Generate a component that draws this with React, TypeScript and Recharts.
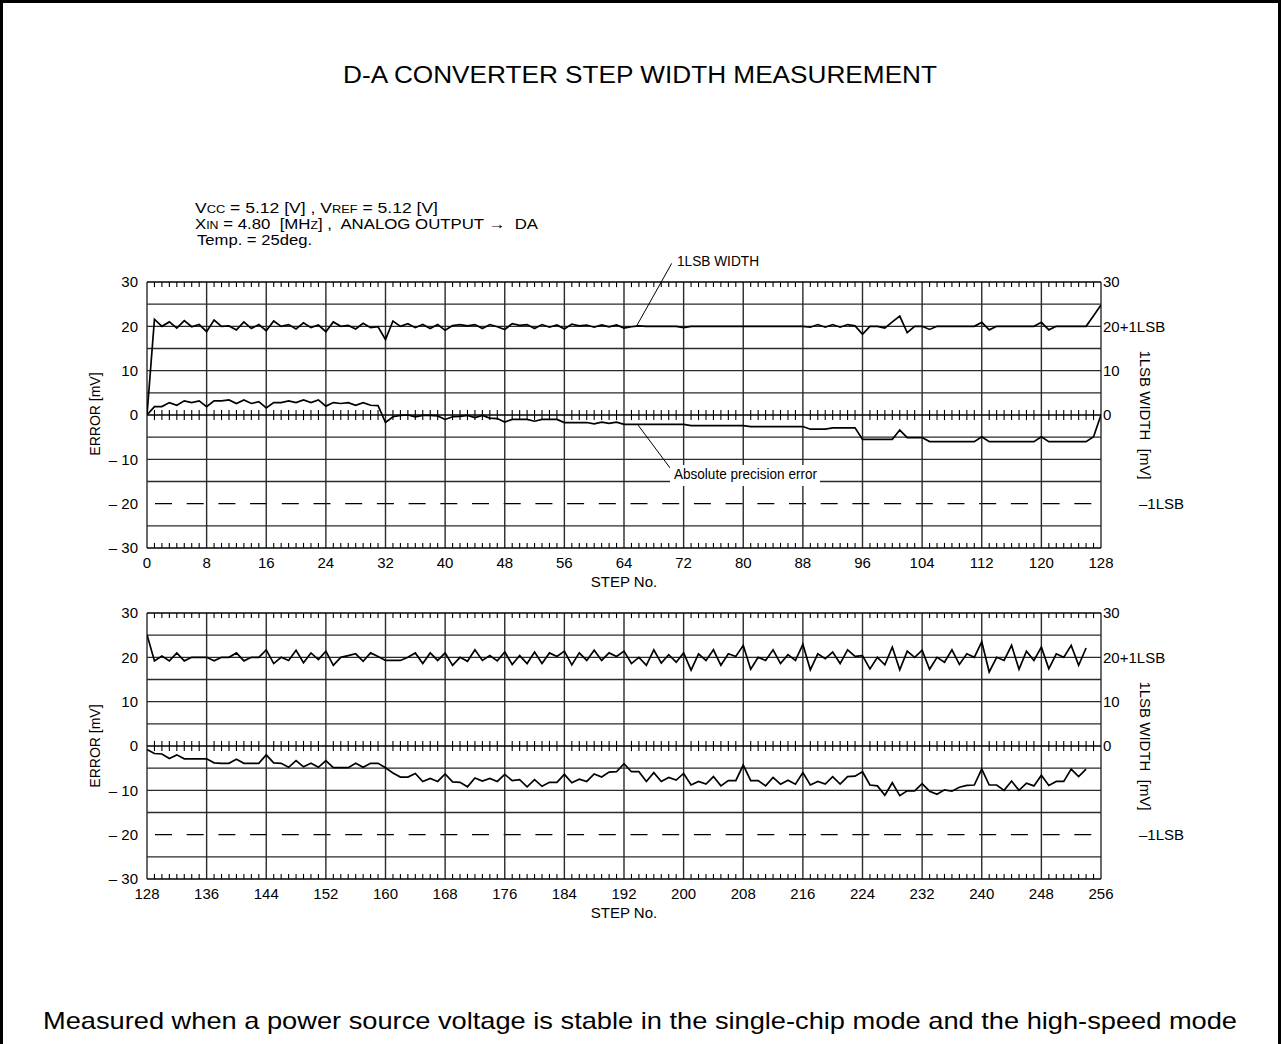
import React from 'react';
import { LineChart, Line, XAxis, YAxis, ReferenceLine } from 'recharts';

const FONT = '"Liberation Sans", Arial, Helvetica, sans-serif';

// ---- Steps 0..128 (upper panel) ----
const upperStartStep = 0;
// 1LSB width [mV] per step
const upperWidth = [
  0, 21.6, 20, 21, 19.6, 21.3, 19.9, 20.4,
  18.8, 21.4, 20, 20.1, 19.2, 21, 19.5, 20.4,
  19, 21.2, 20, 20.4, 19.4, 20.8, 19.7, 20.3,
  18.8, 21, 20, 20.2, 19.4, 20.7, 19.7, 19.9,
  17, 21.2, 20, 20.6, 19.7, 20.4, 19.5, 20.4,
  19.1, 20.2, 20.4, 20.1, 20.4, 19.5, 20.4, 19.9,
  19.3, 20.6, 20.2, 20.4, 19.5, 20.4, 19.8, 20.3,
  19.4, 20.5, 20.1, 20.3, 19.8, 20.3, 19.9, 20.3,
  19.6, 19.9, 20.1, 20, 20, 20, 20, 20,
  19.7, 20, 20, 20, 20, 20, 20, 20,
  20, 20, 20, 20, 20, 20, 20, 20,
  20, 19.8, 20.4, 19.8, 20.4, 19.8, 20.4, 20.1,
  18.2, 20, 20, 19.6, 21, 22.3, 18.6, 20,
  20, 19.3, 20, 20, 20, 20, 20, 20,
  20.9, 19.2, 20, 20, 20, 20, 20, 20,
  20.9, 19.2, 20, 20, 20, 20, 20, 22.4,
  24.8,
];
// Absolute precision error [mV] per step
const upperError = [
  0, 1.9, 1.9, 2.8, 2.2, 3.2, 2.8, 3.2,
  1.9, 3.2, 3.2, 3.4, 2.6, 3.4, 2.6, 3.0,
  1.6, 2.8, 2.8, 3.2, 2.8, 3.4, 2.8, 3.4,
  2.0, 2.8, 2.6, 2.8, 2.2, 2.8, 2.2, 2.1,
  -1.7, -0.4, -0.1, 0, -0.4, -0.1, -0.1, -0.2,
  -1.0, -0.4, -0.3, -0.1, -0.6, -0.1, -0.7, -0.8,
  -1.6, -1.0, -1.0, -1.0, -1.4, -1.0, -1.0, -1.0,
  -1.7, -1.7, -1.7, -1.7, -2.0, -1.6, -1.9, -1.6,
  -2.1, -2.1, -2.1, -2.1, -2.1, -2.1, -2.1, -2.1,
  -2.1, -2.4, -2.4, -2.4, -2.4, -2.4, -2.4, -2.4,
  -2.4, -2.6, -2.6, -2.6, -2.6, -2.6, -2.6, -2.6,
  -2.6, -3.2, -3.2, -3.2, -2.9, -2.9, -2.9, -2.9,
  -5.5, -5.5, -5.5, -5.5, -5.5, -3.4, -5.1, -5.1,
  -5.1, -6.0, -6.0, -6.0, -6.0, -6.0, -6.0, -6.0,
  -4.9, -6.0, -6.0, -6.0, -6.0, -6.0, -6.0, -6.0,
  -4.9, -6.0, -6.0, -6.0, -6.0, -6.0, -6.0, -4.9,
  0,
];

// ---- Steps 128..254 (lower panel) ----
const lowerStartStep = 128;
const lowerWidth = [
  25.1, 19.2, 20.3, 19.2, 21, 19.2, 20, 20,
  20, 19.2, 20, 20, 21, 19.2, 20, 20,
  21.7, 18.6, 20, 19.3, 21.6, 18.8, 21, 19.5,
  21.4, 18.2, 20, 20.4, 20.8, 19.1, 21, 20.2,
  19.3, 19.3, 19.3, 20, 21, 18.6, 21, 19.3,
  21, 18.2, 20, 19.1, 21.7, 19.3, 20.4, 19.2,
  21.2, 18.4, 20.4, 18.6, 21.2, 18.6, 21, 20.2,
  21.4, 18.3, 21, 19.3, 21.6, 19.3, 21, 20.2,
  21.4, 18.6, 20, 18.2, 21.7, 18.7, 20.6, 18.9,
  21, 17.1, 20.8, 19.3, 21.7, 18.2, 20.8, 20.2,
  22.7, 17.3, 20, 19.3, 21.7, 18.6, 20.6, 19.3,
  22.9, 17.2, 20.8, 19.7, 21.2, 18.6, 21.7, 20.2,
  20.4, 17.4, 20, 18.3, 22.3, 17.2, 21.4, 20,
  21.6, 17.3, 20, 18.9, 21.7, 18.4, 20.8, 20,
  23.5, 16.7, 20, 19.3, 22.7, 17.3, 21.4, 19.3,
  22.3, 17.4, 20.8, 20, 22.7, 18.2, 22.1,
];
const lowerError = [
  -0.8, -1.7, -1.8, -2.8, -2.0, -2.9, -2.9, -2.9,
  -2.9, -3.8, -3.9, -3.9, -3.0, -3.9, -3.9, -3.9,
  -2.0, -3.8, -3.9, -4.8, -3.3, -4.7, -3.9, -4.8,
  -3.3, -4.9, -4.9, -4.9, -3.9, -4.8, -3.9, -3.9,
  -4.9, -6.1, -7.0, -7.0, -6.2, -8.0, -7.3, -8.0,
  -6.3, -8.1, -8.2, -9.2, -7.2, -7.9, -7.3, -8.0,
  -6.4, -7.8, -7.6, -9.2, -7.6, -9.1, -8.2, -8.2,
  -6.4, -8.3, -7.5, -8.0, -6.3, -7.0, -5.9, -5.8,
  -4.0, -5.8, -5.8, -8.0, -6.0, -8.0, -7.1, -7.7,
  -6.2, -8.8, -8.0, -8.6, -6.9, -9.0, -7.8, -7.8,
  -4.3, -7.8, -7.8, -9.0, -7.1, -8.6, -7.7, -8.6,
  -6.0, -8.8, -8.0, -8.6, -6.9, -8.6, -6.9, -6.8,
  -5.8, -8.8, -9.0, -11.1, -8.3, -11.2, -10.1, -10.1,
  -8.5, -10.2, -10.9, -9.9, -10.2, -9.3, -8.9, -8.8,
  -5.2, -8.8, -8.8, -10.0, -7.9, -10.0, -8.4, -9.0,
  -6.6, -8.9, -8.0, -8.0, -5.2, -6.9, -5.2,
];

// ---- Axis ticks and labels ----
const upperStepTicks = [0, 8, 16, 24, 32, 40, 48, 56, 64, 72, 80, 88, 96, 104, 112, 120, 128];
const lowerStepTicks = [128, 136, 144, 152, 160, 168, 176, 184, 192, 200, 208, 216, 224, 232, 240, 248, 256];
const errorTicks = [30, 20, 10, 0, -10, -20, -30];
const widthTicks = [30, 20, 10, 0, -20];
const widthTickText: Record<string, string> = { '30': '30', '20': '20+1LSB', '10': '10', '0': '0', '-20': '\u20131LSB' };
const gridLevels = [25, 20, 15, 10, 5, -5, -10, -15, -25];
const lsbMinusLevel = -20;

type Row = { step: number; width: number; error: number };

const buildRows = (start: number, width: number[], error: number[]): Row[] =>
  width.map((w, i) => ({ step: start + i, width: w, error: error[i] }));

const upperRows = buildRows(upperStartStep, upperWidth, upperError);
const lowerRows = buildRows(lowerStartStep, lowerWidth, lowerError);

const GRID = '#2a2a2a';
const TICK_FONT = 15;
const formatError = (v: number) => (v < 0 ? `\u2013 ${-v}` : `${v}`);

const WidthTick = (props: any) => {
  const { x, y, payload } = props;
  const v = payload.value;
  const shift = v === -20 ? 36 : 0;
  return (
    <text x={x + shift} y={y} dy="0.36em" textAnchor="start" fontSize={TICK_FONT} fontFamily={FONT} fill="#000">
      {widthTickText[String(v)]}
    </text>
  );
};

type PanelProps = {
  rows: Row[];
  x0: number;
  x1: number;
  stepTicks: number[];
  top: number;
  height: number;
  marginTop: number;
  children?: React.ReactNode;
};

function Panel({ rows, x0, x1, stepTicks, top, height, marginTop, children }: PanelProps) {
  const minor: number[] = [];
  for (let s = x0 + 1; s < x1; s++) if ((s - x0) % 8 !== 0) minor.push(s);
  const tickLen = 1.15; // mV, about 5px
  const plotH = 266;
  const xAxisH = 30;
  return (
    <div style={{ position: 'absolute', left: 0, top, width: 1281, height }}>
      <LineChart
        width={1281}
        height={height}
        data={rows}
        margin={{ top: marginTop, right: 80, left: 87, bottom: height - marginTop - plotH - xAxisH }}
      >
        <XAxis
          dataKey="step"
          type="number"
          domain={[x0, x1]}
          ticks={stepTicks}
          interval={0}
          height={xAxisH}
          axisLine={false}
          tickLine={false}
          tickSize={0}
          tickMargin={9}
          tick={{ fill: '#000', fontSize: TICK_FONT, fontFamily: FONT }}
          allowDataOverflow
        />
        <YAxis
          yAxisId="left"
          type="number"
          domain={[-30, 30]}
          ticks={errorTicks}
          interval={0}
          width={60}
          axisLine={false}
          tickLine={false}
          tickSize={0}
          tickMargin={9}
          tickFormatter={formatError}
          tick={{ fill: '#000', fontSize: TICK_FONT, fontFamily: FONT }}
        />
        <YAxis
          yAxisId="right"
          orientation="right"
          type="number"
          domain={[-30, 30]}
          ticks={widthTicks}
          interval={0}
          width={100}
          axisLine={false}
          tickLine={false}
          tickSize={0}
          tickMargin={2}
          tick={<WidthTick />}
        />

        {gridLevels.map((v) => (
          <ReferenceLine key={`h${v}`} yAxisId="left" y={v} stroke={GRID} strokeWidth={1.4} />
        ))}
        <ReferenceLine yAxisId="left" y={lsbMinusLevel} stroke="#000" strokeWidth={1.3} strokeDasharray="17 14.7" strokeDashoffset={23.7} />
        {stepTicks.map((s) => (
          <ReferenceLine key={`v${s}`} yAxisId="left" x={s} stroke={GRID} strokeWidth={1.4} />
        ))}
        <ReferenceLine yAxisId="left" y={0} stroke="#000" strokeWidth={1.4} />
        <ReferenceLine yAxisId="left" y={30} stroke="#000" strokeWidth={1.5} />
        <ReferenceLine yAxisId="left" y={-30} stroke="#000" strokeWidth={1.5} />

        {minor.map((s) => (
          <ReferenceLine key={`t${s}`} yAxisId="left" segment={[{ x: s, y: 30 }, { x: s, y: 30 - tickLen }]} stroke="#000" strokeWidth={1.1} />
        ))}
        {minor.map((s) => (
          <ReferenceLine key={`z${s}`} yAxisId="left" segment={[{ x: s, y: tickLen }, { x: s, y: -tickLen }]} stroke="#000" strokeWidth={1.1} />
        ))}
        {minor.map((s) => (
          <ReferenceLine key={`b${s}`} yAxisId="left" segment={[{ x: s, y: -30 }, { x: s, y: -30 + tickLen }]} stroke="#000" strokeWidth={1.1} />
        ))}

        {children}

        <Line yAxisId="right" dataKey="width" type="linear" stroke="#000" strokeWidth={1.7} dot={false} activeDot={false} isAnimationActive={false} />
        <Line yAxisId="left" dataKey="error" type="linear" stroke="#000" strokeWidth={1.7} dot={false} activeDot={false} isAnimationActive={false} />
      </LineChart>
    </div>
  );
}

export default function App() {
  return (
    <div style={{ position: 'absolute', left: 0, top: 0, width: 1281, height: 1044, background: '#fff', fontFamily: FONT, overflow: 'hidden' }}>
      <div style={{ position: 'absolute', left: 0, top: 0, width: 1281, height: 1044, boxSizing: 'border-box', borderTop: '3px solid #000', borderLeft: '3px solid #000', borderRight: '3px solid #000' }} />

      <Panel rows={upperRows} x0={0} x1={128} stepTicks={upperStepTicks} top={0} height={580} marginTop={282}>
        <ReferenceLine yAxisId="left" segment={[{ x: 65.7, y: 20.1 }, { x: 70.4, y: 34.2 }]} stroke="#000" strokeWidth={1} ifOverflow="visible" />
        <ReferenceLine yAxisId="left" segment={[{ x: 65.9, y: -2.3 }, { x: 70.2, y: -12.0 }]} stroke="#000" strokeWidth={1} ifOverflow="visible" />
      </Panel>
      <Panel rows={lowerRows} x0={128} x1={256} stepTicks={lowerStepTicks} top={580} height={440} marginTop={33} />

      <svg width={1281} height={1044} style={{ position: 'absolute', left: 0, top: 0, pointerEvents: 'none' }}>
        <text x={343} y={75} dy="0.36em" fontSize={23} fontFamily={FONT} fill="#000" textLength={594} lengthAdjust="spacingAndGlyphs">
          D-A CONVERTER STEP WIDTH MEASUREMENT
        </text>

        <g fontSize={15} fontFamily={FONT} fill="#000">
          <text x={195} y={213.3} textLength={243} lengthAdjust="spacingAndGlyphs">
            V<tspan fontSize={11}>CC</tspan> = 5.12 [V] , V<tspan fontSize={11}>REF</tspan> = 5.12 [V]
          </text>
          <text x={195} y={229.3} xmlSpace="preserve" textLength={343} lengthAdjust="spacingAndGlyphs">
            X<tspan fontSize={11}>IN</tspan> = 4.80  [MH<tspan fontSize={11}>Z</tspan>] ,  ANALOG OUTPUT {'\u2192'}  DA
          </text>
          <text x={197} y={245} textLength={115} lengthAdjust="spacingAndGlyphs">Temp. = 25deg.</text>
        </g>

        <text x={677} y={261} dy="0.36em" fontSize={15} fontFamily={FONT} fill="#000" textLength={82} lengthAdjust="spacingAndGlyphs">1LSB WIDTH</text>

        <rect x={670} y={465} width={150} height={21} fill="#fff" />
        <text x={674} y={474} dy="0.36em" fontSize={15} fontFamily={FONT} fill="#000" textLength={143} lengthAdjust="spacingAndGlyphs">Absolute precision error</text>

        <text x={95} y={414} dy="0.36em" textAnchor="middle" fontSize={14} fontFamily={FONT} fill="#000" transform="rotate(-90 95 414)">ERROR [mV]</text>
        <text x={95} y={746} dy="0.36em" textAnchor="middle" fontSize={14} fontFamily={FONT} fill="#000" transform="rotate(-90 95 746)">ERROR [mV]</text>
        <text x={1145} y={415} dy="0.36em" textAnchor="middle" fontSize={15} fontFamily={FONT} fill="#000" transform="rotate(90 1145 415)" xmlSpace="preserve">1LSB WIDTH  [mV]</text>
        <text x={1145} y={746} dy="0.36em" textAnchor="middle" fontSize={15} fontFamily={FONT} fill="#000" transform="rotate(90 1145 746)" xmlSpace="preserve">1LSB WIDTH  [mV]</text>

        <text x={624} y={582} dy="0.36em" textAnchor="middle" fontSize={15} fontFamily={FONT} fill="#000">STEP No.</text>
        <text x={624} y={913} dy="0.36em" textAnchor="middle" fontSize={15} fontFamily={FONT} fill="#000">STEP No.</text>

        <text x={43} y={1020} dy="0.36em" fontSize={24} fontFamily={FONT} fill="#000" textLength={1194} lengthAdjust="spacingAndGlyphs">
          Measured when a power source voltage is stable in the single-chip mode and the high-speed mode
        </text>
      </svg>
    </div>
  );
}
